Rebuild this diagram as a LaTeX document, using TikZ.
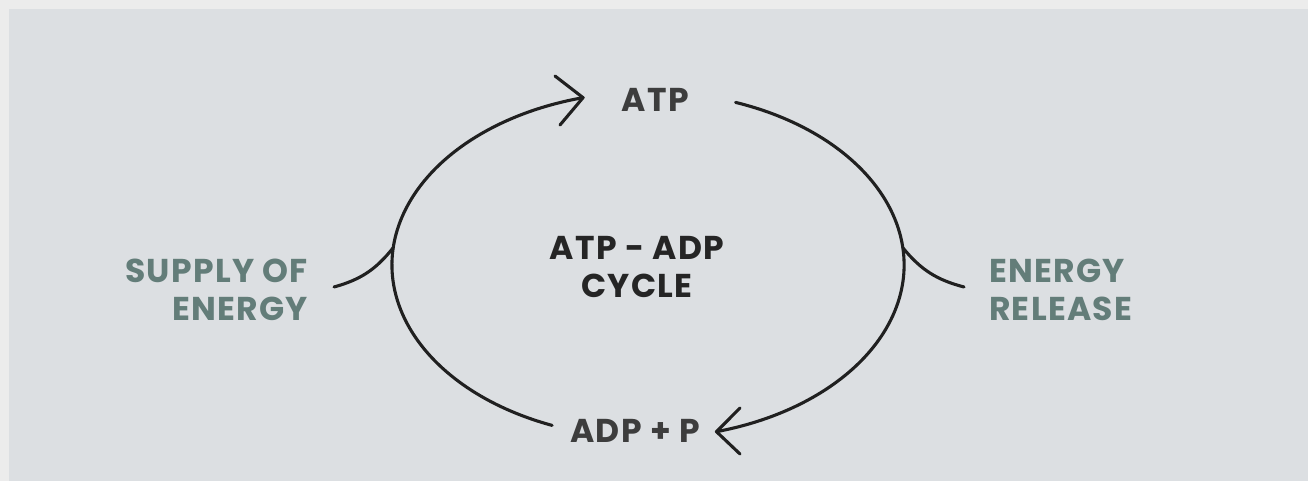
\documentclass[tikz,border=0pt]{standalone}
\usepackage{fontspec}
\setmainfont{Poppins}[LetterSpace=4]
\definecolor{outerbg}{HTML}{ECECEC}
\definecolor{innerbg}{HTML}{DCDFE2}
\definecolor{darktxt}{HTML}{3D3D3D}
\definecolor{centertxt}{HTML}{252525}
\definecolor{greentxt}{HTML}{637D79}
\definecolor{linecol}{HTML}{202020}
\begin{document}
\begin{tikzpicture}[x=1pt,y=1pt,
  lbl/.style={font=\fontsize{33}{38}\selectfont\bfseries, inner sep=0pt, outer sep=0pt},
  cyc/.style={draw=linecol, line width=3.1pt, line cap=round, line join=round}]
\fill[outerbg] (0,0) rectangle (1308,481);
\fill[innerbg] (9,0) rectangle (1308,472);
\useasboundingbox (0,0) rectangle (1308,481);
% labels
\node[lbl, text=darktxt, anchor=base] (atp) at (655.5,369) {ATP};
\node[lbl, text=darktxt, anchor=base] (adp) at (635,38) {ADP + P};
\node[lbl, text=centertxt, anchor=base, align=center] (cycle) at (637,183) {ATP - ADP\\CYCLE};
\node[lbl, text=greentxt, anchor=base east, align=right] (supply) at (308,160) {SUPPLY OF\\ENERGY};
\node[lbl, text=greentxt, anchor=base west, align=left] (release) at (989,160) {ENERGY\\RELEASE};
% cycle arcs
\coordinate (l0) at (552.1,55.6);
\coordinate (r0) at (735.6,378.6);
\draw[cyc] (l0) arc[start angle=248, end angle=104.7, x radius=256, y radius=173] coordinate (ltip);
\draw[cyc] (r0) arc[start angle=70, end angle=-74.5, x radius=256, y radius=173] coordinate (rtip);
% arrowheads
\coordinate (la1) at (555,405);
\coordinate (la2) at (560,356);
\coordinate (ra1) at (740,73);
\coordinate (ra2) at (740,27);
\draw[cyc] (la1) -- (ltip) -- (la2);
\draw[cyc] (ra1) -- (rtip) -- (ra2);
% side connectors
\coordinate (sl0) at (334,194);
\coordinate (sl1) at (393,233);
\coordinate (sr0) at (903,233);
\coordinate (sr1) at (964,194);
\draw[cyc] (sl0) to[bend right=18] (sl1);
\draw[cyc] (sr0) to[bend right=18] (sr1);
\end{tikzpicture}
\end{document}
